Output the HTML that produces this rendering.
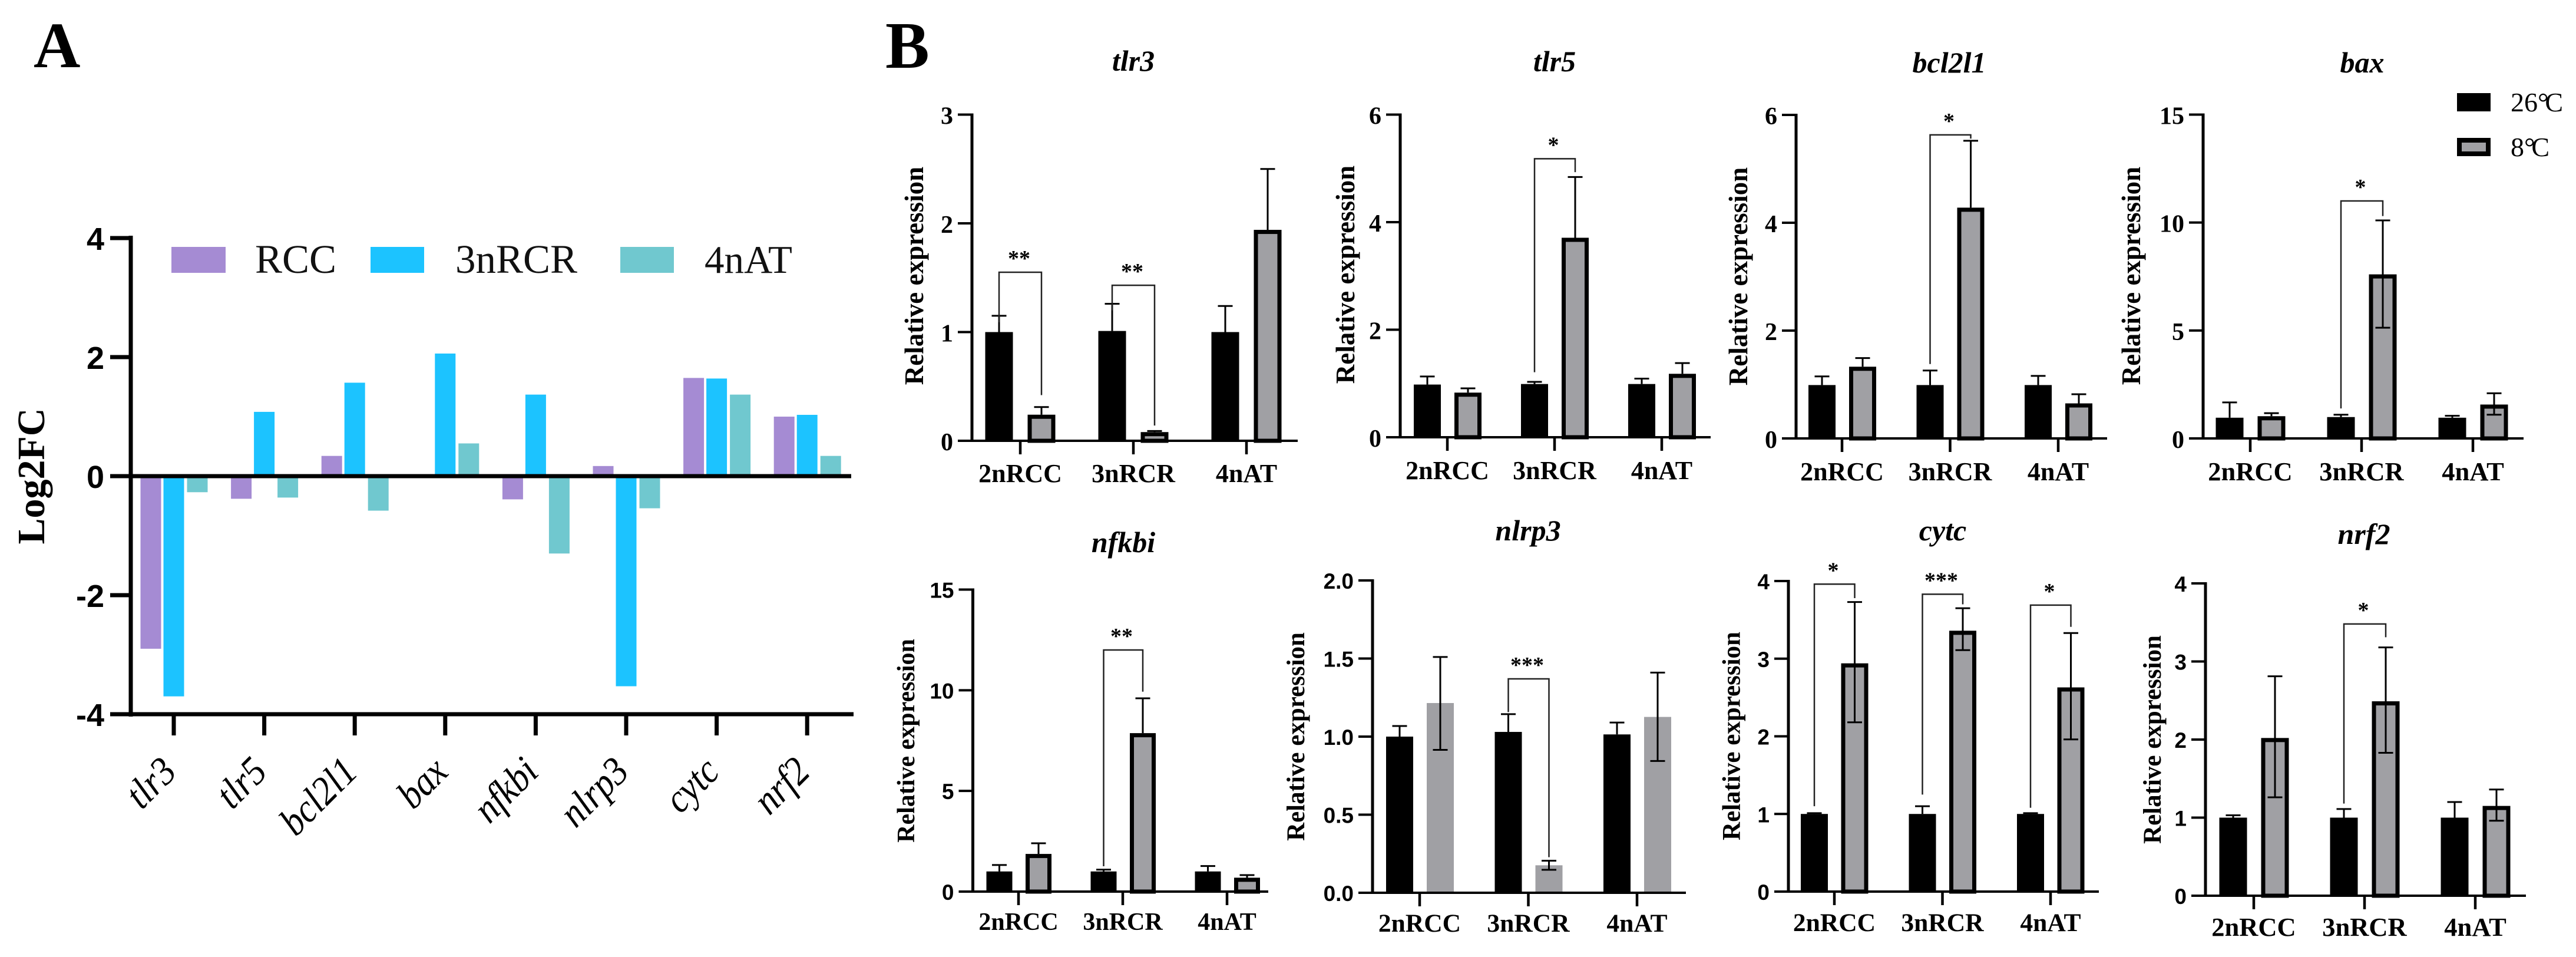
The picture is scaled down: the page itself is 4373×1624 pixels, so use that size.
<!DOCTYPE html>
<html lang="en">
<head>
<meta charset="utf-8">
<title>Log2FC and relative expression of immune and apoptosis genes</title>
<style>
html,body{margin:0;padding:0;background:#fff;width:4373px;height:1624px;overflow:hidden}
svg{display:block}
.serif{font-family:"Liberation Serif","Noto Serif CJK SC",serif}
.sans{font-family:"Liberation Sans",sans-serif}
</style>
</head>
<body>
<svg id="figure" xmlns="http://www.w3.org/2000/svg" width="4373" height="1624" viewBox="0 0 4373 1624">
  <rect x="0" y="0" width="4373" height="1624" fill="#ffffff"/>
  <text class="serif" x="57" y="114" font-size="110" font-weight="bold">A</text>
  <text class="serif" x="1503" y="115" font-size="112" font-weight="bold">B</text>
  <text class="serif" transform="translate(75,808) rotate(-90)" text-anchor="middle" font-size="66" font-weight="bold">Log2FC</text>
  <rect x="291" y="419" width="92" height="44" fill="#A58BD3"/>
  <text class="serif" x="433" y="463" font-size="69" fill="#111">RCC</text>
  <rect x="629" y="419" width="91" height="44" fill="#1CC3FF"/>
  <text class="serif" x="773" y="463" font-size="69" fill="#111">3nRCR</text>
  <rect x="1053" y="419" width="91" height="44" fill="#70C8CF"/>
  <text class="serif" x="1196" y="463" font-size="67" fill="#111">4nAT</text>
  <rect x="4171" y="158" width="57" height="31" fill="#000"/>
  <text class="serif" x="4262" y="189" font-size="46">26°<tspan dx="-6">C</tspan></text>
  <rect x="4175" y="238" width="49" height="23" fill="#A0A0A4" stroke="#000" stroke-width="8"/>
  <text class="serif" x="4262" y="265" font-size="46">8°<tspan dx="-6">C</tspan></text>
</svg>
<script>
// ---- Panel A data ----
const log2Genes = ['tlr3','tlr5','bcl2l1','bax','nfkbi','nlrp3','cytc','nrf2'];
const log2Rcc = [-2.9,-0.38,0.34,-0.02,-0.39,0.17,1.65,1.0];
const log2Rcr = [-3.7,1.08,1.57,2.06,1.37,-3.53,1.64,1.03];
const log2At = [-0.27,-0.36,-0.58,0.55,-1.3,-0.54,1.37,0.34];
const log2Ticks = [-4,-2,0,2,4];

// ---- Panel B data ----
const groups = ['2nRCC','3nRCR','4nAT'];

const tlr3Ticks = ['0','1','2','3'];
const tlr3Warm = [1.0,1.01,1.0];
const tlr3WarmHi = [1.15,1.26,1.24];
const tlr3Cold = [0.24,0.08,1.94];
const tlr3ColdHi = [0.31,0.09,2.5];
const tlr3ColdLo = [null,null,null];
const tlr3Brackets = [[0,1.09,1.55,0.42,'**'],[1,1.2,1.43,0.14,'**']];

const tlr5Ticks = ['0','2','4','6'];
const tlr5Warm = [0.98,0.99,0.99];
const tlr5WarmHi = [1.13,1.03,1.09];
const tlr5Cold = [0.83,3.71,1.18];
const tlr5ColdHi = [0.91,4.84,1.38];
const tlr5ColdLo = [null,null,null];
const tlr5Brackets = [[1,1.21,5.18,4.93,'*']];

const bclTicks = ['0','2','4','6'];
const bclWarm = [0.99,0.99,0.99];
const bclWarmHi = [1.15,1.26,1.16];
const bclCold = [1.33,4.28,0.65];
const bclColdHi = [1.49,5.52,0.82];
const bclColdLo = [null,null,null];
const bclBrackets = [[1,1.38,5.63,5.56,'*']];

const baxTicks = ['0','5','10','15'];
const baxWarm = [0.96,0.99,0.96];
const baxWarmHi = [1.67,1.1,1.05];
const baxCold = [1.03,7.6,1.57];
const baxColdHi = [1.17,10.1,2.09];
const baxColdLo = [null,5.13,1.1];
const baxBrackets = [[1,1.39,11.0,10.3,'*']];

const nfkbiTicks = ['0','5','10','15'];
const nfkbiWarm = [1.0,1.0,1.0];
const nfkbiWarmHi = [1.32,1.09,1.27];
const nfkbiCold = [1.87,7.87,0.69];
const nfkbiColdHi = [2.4,9.6,0.82];
const nfkbiColdLo = [null,null,null];
const nfkbiBrackets = [[1,1.26,12.0,9.93,'**']];

const nlrpTicks = ['0.0','0.5','1.0','1.5','2.0'];
const nlrpWarm = [1.0,1.03,1.014];
const nlrpWarmHi = [1.068,1.144,1.09];
const nlrpCold = [1.215,0.176,1.126];
const nlrpColdHi = [1.51,0.205,1.41];
const nlrpColdLo = [0.915,0.147,0.844];
const nlrpBrackets = [[1,1.157,1.37,0.228,'***']];

const cytcTicks = ['0','1','2','3','4'];
const cytcWarm = [1.0,1.0,1.0];
const cytcWarmHi = [1.01,1.1,1.01];
const cytcCold = [2.94,3.36,2.63];
const cytcColdHi = [3.73,3.65,3.33];
const cytcColdLo = [2.18,3.11,1.96];
const cytcBrackets = [[0,1.1,3.96,3.78,'*'],[1,1.25,3.83,3.7,'***'],[2,1.08,3.69,3.41,'*']];

const nrfTicks = ['0','1','2','3','4'];
const nrfWarm = [1.0,1.0,1.0];
const nrfWarmHi = [1.03,1.11,1.2];
const nrfCold = [2.02,2.49,1.15];
const nrfColdHi = [2.81,3.18,1.36];
const nrfColdLo = [1.26,1.83,0.96];
const nrfBrackets = [[1,1.18,3.48,3.31,'*']];

const NS = 'http://www.w3.org/2000/svg';
const svg = document.getElementById('figure');
function mk(tag, attrs) {
  const el = document.createElementNS(NS, tag);
  for (const k in attrs) el.setAttribute(k, attrs[k]);
  svg.appendChild(el);
  return el;
}
function hv(x1, y1, x2, y2, w, color) {
  return mk('line', {x1: x1, y1: y1, x2: x2, y2: y2, stroke: color || '#000', 'stroke-width': w});
}

// ---- Panel A drawing ----
(function drawLog2() {
  const yOf = v => 808 - v * 101;
  const xOf = i => 295 + i * 153.6;
  const seriesList = [[log2Rcc, '#A58BD3', -39, 'rcc'], [log2Rcr, '#1CC3FF', 0, '3nrcr'], [log2At, '#70C8CF', 40, '4nat']];
  seriesList.forEach(s => {
    s[0].forEach((v, i) => {
      const top = Math.min(yOf(v), yOf(0));
      const r = mk('rect', {x: xOf(i) + s[2] - 17.5, y: top, width: 35, height: Math.abs(yOf(v) - yOf(0)), fill: s[1]});
      
      
    });
  });
  const yAxis = hv(222, 400, 222, 1216, 7);
  
  
  const xAxis = hv(187, 1212, 1449, 1212, 7);
  
  
  const zero = hv(187, 808, 1445, 808, 7);
  
  
  log2Ticks.forEach(t => {
    const tk = hv(187, yOf(t), 222, yOf(t), 7);
    
    
    const lb = mk('text', {class: 'sans', x: 177, y: yOf(t) + 20, 'font-size': 54, 'font-weight': 'bold', 'text-anchor': 'end'});
    lb.textContent = String(t);
    
    
  });
  log2Genes.forEach((g, i) => {
    const tk = hv(xOf(i), 1212, xOf(i), 1248, 7);
    
    
    const lb = mk('text', {class: 'serif', 'font-size': 68, 'font-style': 'italic', 'text-anchor': 'end',
      transform: 'translate(' + (xOf(i) + 8) + ',1313) rotate(-45) scale(0.9,1)'});
    lb.textContent = g;
    
    
  });
})();

// ---- Panel B drawing ----
function drawPanel(p) {
  const maxV = parseFloat(p.ticks[p.ticks.length - 1]);
  const yOf = v => p.y0 - v / maxV * (p.y0 - p.yTop);
  const xOf = i => p.x0 + i * p.dx;
  const half = p.barW / 2;
  groups.forEach((g, i) => {
    const cxW = xOf(i) + p.offL;
    const cxC = xOf(i) + p.offR;
    const bw = mk('rect', {x: cxW - half, y: yOf(p.warm[i]), width: p.barW, height: p.y0 - yOf(p.warm[i]), fill: '#000'});
    
    
    const hW = hv(cxW, yOf(p.warm[i]), cxW, yOf(p.warmHi[i]), 3);
    
    
    const cW = hv(cxW - 12.5, yOf(p.warmHi[i]), cxW + 12.5, yOf(p.warmHi[i]), 3);
    
    

    let bc;
    if (p.flat) {
      bc = mk('rect', {x: cxC - half, y: yOf(p.cold[i]), width: p.barW, height: p.y0 - yOf(p.cold[i]), fill: '#A0A0A4'});
    } else {
      bc = mk('rect', {x: cxC - half + 3.5, y: yOf(p.cold[i]) + 3.5, width: p.barW - 7, height: Math.max(1, p.y0 - yOf(p.cold[i]) - 3.5),
        fill: '#A0A0A4', stroke: '#000', 'stroke-width': 7});
    }
    
    
    const lowV = p.coldLo[i] === null ? p.cold[i] : p.coldLo[i];
    const hC = hv(cxC, yOf(lowV), cxC, yOf(p.coldHi[i]), 3);
    
    
    const cC = hv(cxC - 12.5, yOf(p.coldHi[i]), cxC + 12.5, yOf(p.coldHi[i]), 3);
    
    
    if (p.coldLo[i] !== null) {
      const cL = hv(cxC - 12.5, yOf(lowV), cxC + 12.5, yOf(lowV), 3);
      
      
    }
    const xt = hv(xOf(i), p.y0, xOf(i), p.y0 + 23, 4.5);
    
    
    const xl = mk('text', {class: 'serif', x: xOf(i), y: p.catY, 'font-size': p.catFont, 'font-weight': 'bold', 'text-anchor': 'middle'});
    xl.textContent = g;
    
    
  });
  const ya = hv(p.ax, p.yTop - 2, p.ax, p.y0 + 2, 5);
  
  
  const xa = hv(p.ax - 24, p.y0, p.right, p.y0, 4);
  
  
  p.ticks.forEach(t => {
    const v = parseFloat(t);
    const yt = hv(p.ax - 24, yOf(v), p.ax, yOf(v), 4);
    
    
    const lb = mk('text', {class: p.sans ? 'sans' : 'serif', x: p.ax - 32, y: yOf(v) + (p.sans ? 14 : 16),
      'font-size': p.sans ? 37 : 42, 'font-weight': 'bold', 'text-anchor': 'end'});
    lb.textContent = t;
    
    
  });
  p.brackets.forEach(b => {
    const xL = xOf(b[0]) + p.offL;
    const xR = xOf(b[0]) + p.offR;
    const br = mk('polyline', {points: xL + ',' + yOf(b[1]) + ' ' + xL + ',' + yOf(b[2]) + ' ' + xR + ',' + yOf(b[2]) + ' ' + xR + ',' + yOf(b[3]),
      fill: 'none', stroke: '#222', 'stroke-width': 2.5});
    
    
    const st = mk('text', {class: 'serif', x: xOf(b[0]) - 2, y: yOf(b[2]) - 11, 'font-size': 38, 'font-weight': 'bold', 'text-anchor': 'middle'});
    st.textContent = b[4];
    
    
  });
  const yl = mk('text', {class: 'serif', 'font-size': p.ylFont, 'font-weight': 'bold', 'text-anchor': 'middle',
    transform: 'translate(' + p.ylX + ',' + p.ylY + ') rotate(-90)'});
  yl.textContent = 'Relative expression';
  
  
  const ti = mk('text', {class: 'serif', x: p.tX, y: p.tY, 'font-size': 50, 'font-weight': 'bold', 'font-style': 'italic', 'text-anchor': 'middle'});
  ti.textContent = p.gene;
  
  
}

drawPanel({gene:'tlr3', ticks:tlr3Ticks, warm:tlr3Warm, warmHi:tlr3WarmHi, cold:tlr3Cold, coldHi:tlr3ColdHi, coldLo:tlr3ColdLo, brackets:tlr3Brackets,
  ax:1650, y0:748, yTop:194.5, x0:1732, dx:192, right:2203, offL:-36, offR:36, barW:47, ylX:1567, ylY:468, ylFont:45, tX:1924, tY:120, catY:818, catFont:44});
drawPanel({gene:'tlr5', ticks:tlr5Ticks, warm:tlr5Warm, warmHi:tlr5WarmHi, cold:tlr5Cold, coldHi:tlr5ColdHi, coldLo:tlr5ColdLo, brackets:tlr5Brackets,
  ax:2377, y0:742, yTop:194.5, x0:2457, dx:182, right:2904, offL:-34, offR:35, barW:46, ylX:2299, ylY:466, ylFont:45, tX:2639, tY:121, catY:813, catFont:44});
drawPanel({gene:'bcl2l1', ticks:bclTicks, warm:bclWarm, warmHi:bclWarmHi, cold:bclCold, coldHi:bclColdHi, coldLo:bclColdLo, brackets:bclBrackets,
  ax:3049, y0:744, yTop:195, x0:3127, dx:183.5, right:3577, offL:-34, offR:35, barW:46, ylX:2966, ylY:469, ylFont:45, tX:3309, tY:123, catY:815, catFont:44});
drawPanel({gene:'bax', ticks:baxTicks, warm:baxWarm, warmHi:baxWarmHi, cold:baxCold, coldHi:baxColdHi, coldLo:baxColdLo, brackets:baxBrackets,
  ax:3740, y0:744, yTop:194.5, x0:3820, dx:189, right:4284, offL:-35, offR:36, barW:47, ylX:3633, ylY:468, ylFont:45, tX:4010, tY:123, catY:815, catFont:44.5});
drawPanel({gene:'nfkbi', sans:true, ticks:nfkbiTicks, warm:nfkbiWarm, warmHi:nfkbiWarmHi, cold:nfkbiCold, coldHi:nfkbiColdHi, coldLo:nfkbiColdLo, brackets:nfkbiBrackets,
  ax:1651.5, y0:1513, yTop:1000.5, x0:1729, dx:177, right:2153, offL:-32.5, offR:34, barW:44, ylX:1552, ylY:1257, ylFont:42, tX:1907, tY:937, catY:1578, catFont:42});
drawPanel({gene:'nlrp3', sans:true, flat:true, ticks:nlrpTicks, warm:nlrpWarm, warmHi:nlrpWarmHi, cold:nlrpCold, coldHi:nlrpColdHi, coldLo:nlrpColdLo, brackets:nlrpBrackets,
  ax:2330, y0:1515, yTop:985, x0:2410, dx:184.5, right:2862, offL:-34, offR:35, barW:46, ylX:2214, ylY:1250, ylFont:43, tX:2594, tY:917, catY:1581, catFont:43.5});
drawPanel({gene:'cytc', sans:true, ticks:cytcTicks, warm:cytcWarm, warmHi:cytcWarmHi, cold:cytcCold, coldHi:cytcColdHi, coldLo:cytcColdLo, brackets:cytcBrackets,
  ax:3036, y0:1513, yTop:986, x0:3114, dx:183.5, right:3563, offL:-34, offR:34.5, barW:46, ylX:2953.5, ylY:1249, ylFont:43, tX:3298, tY:917, catY:1580, catFont:43.5});
drawPanel({gene:'nrf2', sans:true, ticks:nrfTicks, warm:nrfWarm, warmHi:nrfWarmHi, cold:nrfCold, coldHi:nrfColdHi, coldLo:nrfColdLo, brackets:nrfBrackets,
  ax:3744, y0:1520, yTop:990, x0:3826, dx:188, right:4288, offL:-35, offR:36, barW:47, ylX:3668, ylY:1255, ylFont:43, tX:4013, tY:923, catY:1588, catFont:44.5});
</script>
</body>
</html>
